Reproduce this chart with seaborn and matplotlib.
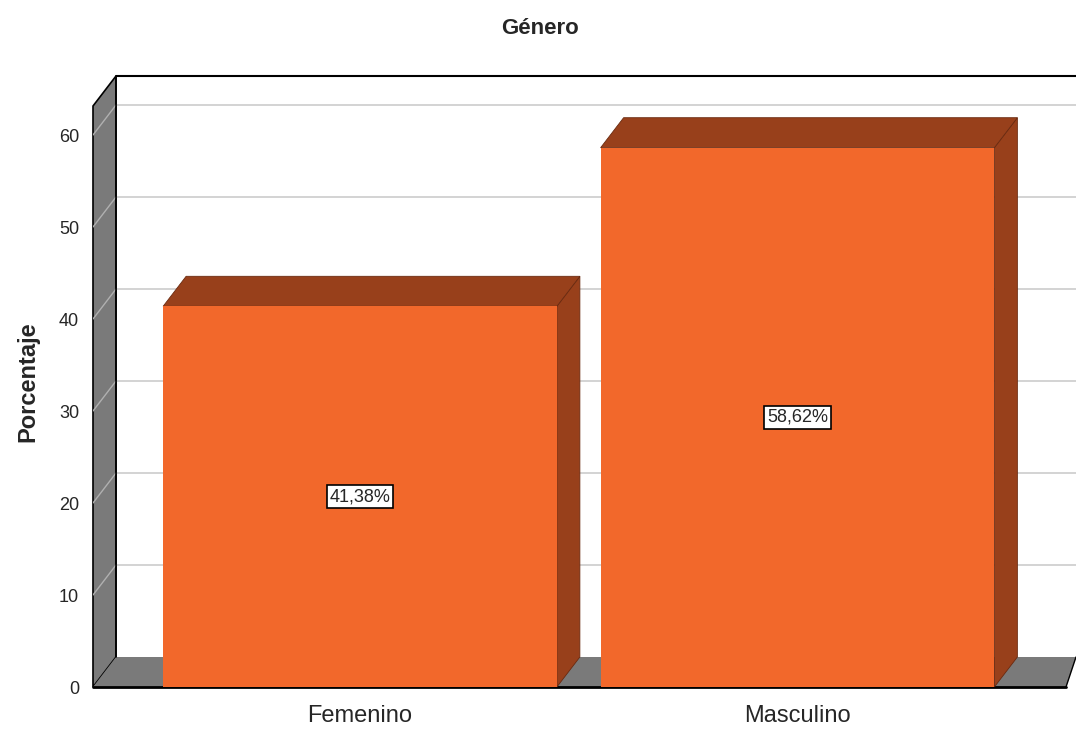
import matplotlib
matplotlib.use("Agg")
import matplotlib.pyplot as plt
from matplotlib.patches import Polygon
import seaborn as sns
import pandas as pd

# datos
categorias = ["Femenino", "Masculino"]
porcentajes = [41.38, 58.62]
etiquetas = ["41,38%", "58,62%"]
ticks_y = [0, 10, 20, 30, 40, 50, 60]

df = pd.DataFrame({"Genero": categorias, "Porcentaje": porcentajes})

sns.set_style("white")
plt.rcParams["font.family"] = ["Liberation Sans", "DejaVu Sans"]

naranja = "#F2682B"
oscuro = "#98401B"
gris = "#7A7A7A"

fig = plt.figure(figsize=(10.76, 7.29), dpi=100)
ax = fig.add_axes([93 / 1076, 1 - 687 / 729, 1 - 93 / 1076, (687 - 76) / 729])

sns.barplot(data=df, x="Genero", y="Porcentaje", color=naranja, width=0.9,
            saturation=1, ax=ax, zorder=5, edgecolor="none")

# escalas (pixeles -> datos)
px_x = 437.5
px_y = 9.2
x0 = -(360 - 93) / px_x
x1 = x0 + (1076 - 93) / px_x
y1 = (687 - 76) / px_y
dx = 23 / px_x
dy = 30 / px_y
ax.set_xlim(x0, x1)
ax.set_ylim(0, y1)

# pared izquierda
ax.add_patch(Polygon([(x0, 0), (x0, y1 - dy), (x0 + dx, y1), (x0 + dx, dy)],
                     closed=True, facecolor=gris, edgecolor="black", lw=1.2,
                     zorder=1, clip_on=False))
# piso
x_piso = x0 + (1066 - 93) / px_x
ax.add_patch(Polygon([(x0, 0), (x0 + dx, dy), (x1, dy), (x_piso, 0)],
                     closed=True, facecolor=gris, edgecolor="none",
                     zorder=1, clip_on=False))
ax.plot([x0, x_piso], [0, 0], color="black", lw=2, zorder=2, clip_on=False)
ax.plot([x_piso, x1], [0, dy], color="black", lw=1, zorder=2, clip_on=False)

# lineas de cuadricula
for v in ticks_y[1:]:
    ax.plot([x0 + dx, x1], [v + dy, v + dy], color="#D0D0D0", lw=1.3, zorder=0)
    ax.plot([x0, x0 + dx], [v, v + dy], color="#B0B0B0", lw=1, zorder=2)
ax.plot([x0 + dx, x1], [y1, y1], color="black", lw=1.5, zorder=2, clip_on=False)
ax.plot([x0 + dx, x0 + dx], [dy, y1], color="black", lw=1.2, zorder=2)

# caras 3D de las barras
for barra, etiqueta in zip(ax.patches[:len(categorias)], etiquetas):
    xl = barra.get_x()
    xr = xl + barra.get_width()
    h = barra.get_height()
    ax.add_patch(Polygon([(xr, 0), (xr, h), (xr + dx, h + dy), (xr + dx, dy)],
                         closed=True, facecolor=oscuro, edgecolor="#6A2A10",
                         lw=0.6, zorder=4))
    ax.add_patch(Polygon([(xl, h), (xr, h), (xr + dx, h + dy), (xl + dx, h + dy)],
                         closed=True, facecolor=oscuro, edgecolor="#6A2A10",
                         lw=0.6, zorder=4))
    ax.text(xl + barra.get_width() / 2, h / 2, etiqueta, ha="center", va="center",
            fontsize=13, zorder=6,
            bbox=dict(boxstyle="square,pad=0.15", facecolor="white",
                      edgecolor="black", lw=1.2))

for s in ax.spines.values():
    s.set_visible(False)
ax.set_yticks(ticks_y)
ax.set_yticklabels([str(t) for t in ticks_y])
ax.tick_params(axis="y", length=0, pad=10, labelsize=13)
ax.tick_params(axis="x", length=0, pad=13, labelsize=17)
ax.set_xlabel("")
ax.set_ylabel("Porcentaje", fontsize=17, fontweight="bold", labelpad=14)
fig.text(540 / 1076, 1 - 29 / 729, "Género", ha="center", va="center",
         fontsize=16, fontweight="bold")

fig.savefig("out.png", dpi=100)
